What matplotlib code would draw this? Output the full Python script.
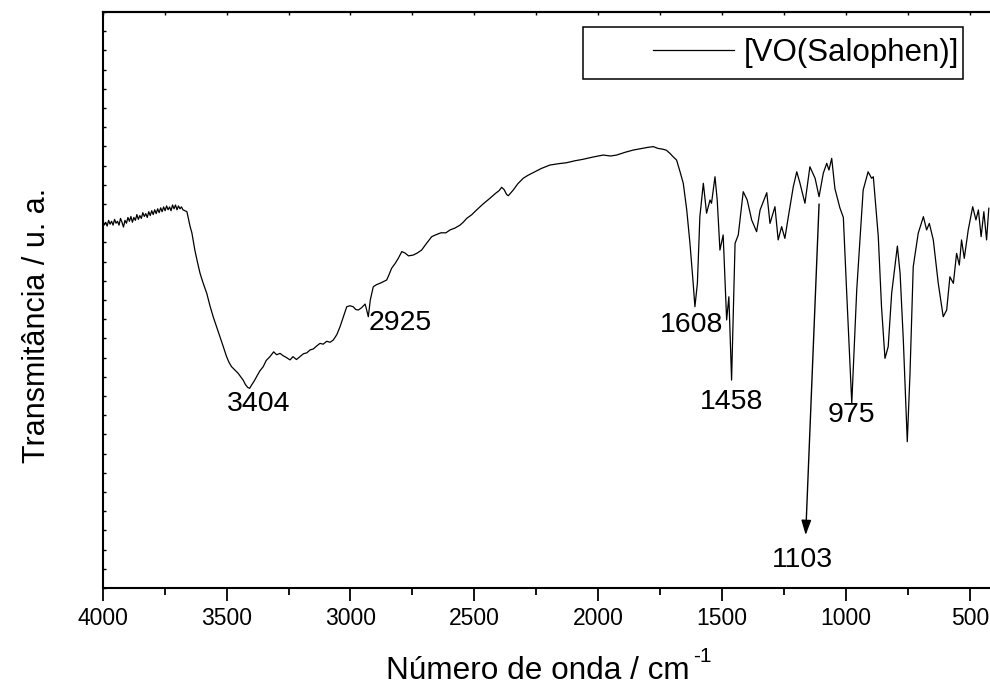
import matplotlib
matplotlib.use("Agg")
import matplotlib.pyplot as plt
from matplotlib.patches import Rectangle
from matplotlib.ticker import MultipleLocator, NullFormatter

plt.rcParams['font.family'] = ['Liberation Sans', 'DejaVu Sans']

# --- espectro IV ---
numero_onda = [
    4000, 3994, 3988, 3982, 3976, 3970, 3964, 3958, 3952, 3946, 3940, 3934, 3928, 3922,
    3916, 3910, 3904, 3898, 3892, 3886, 3880, 3874, 3868, 3862, 3856, 3850, 3844, 3838,
    3832, 3826, 3820, 3814, 3808, 3802, 3796, 3790, 3784, 3778, 3772, 3766, 3760, 3754,
    3748, 3742, 3736, 3730, 3724, 3718, 3712, 3706, 3700, 3694, 3688, 3682, 3676, 3668,
    3660, 3647, 3640, 3628, 3618, 3607, 3595, 3580, 3567, 3554, 3540, 3527, 3514,
    3500, 3490, 3480, 3466, 3453, 3443, 3433, 3424, 3415, 3407, 3399, 3390, 3379, 3366,
    3352, 3340, 3325, 3310, 3298, 3284, 3272, 3258, 3244, 3232, 3218, 3204, 3190, 3176,
    3163, 3150, 3137, 3123, 3110, 3096, 3082, 3069, 3055, 3042, 3028, 3015, 3002, 2989,
    2978, 2968, 2955, 2941, 2935, 2928, 2920, 2908, 2895, 2881, 2868, 2854, 2845, 2834,
    2820, 2807, 2793, 2780, 2766, 2747, 2730, 2713, 2693, 2672, 2655, 2635, 2615, 2598,
    2578, 2558, 2545, 2531, 2510, 2491, 2465, 2437, 2415, 2400, 2390, 2380, 2370, 2363,
    2355, 2343, 2325, 2303, 2283, 2263, 2230, 2195, 2160, 2128, 2095, 2061, 2020, 1980,
    1950, 1926, 1890, 1859, 1820, 1800, 1778, 1760, 1738, 1725, 1711, 1697, 1684, 1670,
    1657, 1643, 1630, 1617, 1610, 1600, 1590, 1576, 1563, 1549, 1543, 1529, 1520, 1509,
    1496, 1482, 1473, 1462, 1448, 1435, 1415, 1399, 1381, 1361, 1347, 1320, 1307, 1287,
    1274, 1260, 1247, 1233, 1213, 1199, 1186, 1166, 1146, 1125, 1109, 1092, 1078, 1069,
    1058, 1045, 1025, 1011, 998, 977, 957, 931, 911, 897, 890, 870, 857, 843,
    830, 816, 803, 793, 782, 769, 753, 742, 729, 709, 688, 675, 664, 648,
    628, 608, 594, 581, 567, 554, 543, 534, 523, 507, 489, 476, 466, 455,
    444, 433, 424,
]
transmitancia = [
    19.10, 18.90, 19.05, 18.85, 19.15, 18.95, 19.10, 18.90, 19.20, 19.00, 19.10, 18.90, 19.25, 19.05,
    18.80, 19.15, 19.00, 19.30, 19.10, 19.35, 19.05, 19.30, 19.15, 19.45, 19.20, 19.40, 19.25, 19.55,
    19.35, 19.50, 19.30, 19.60, 19.40, 19.65, 19.45, 19.70, 19.50, 19.75, 19.55, 19.80, 19.60, 19.85,
    19.65, 19.90, 19.70, 19.85, 19.65, 19.95, 19.75, 19.95, 19.70, 19.90, 19.75, 19.85, 19.70, 19.65,
    19.60, 18.82, 18.50, 17.60, 17.00, 16.39, 15.90, 15.35, 14.70, 14.13, 13.60, 13.09, 12.60,
    12.05, 11.75, 11.53, 11.35, 11.18, 11.00, 10.83, 10.60, 10.45, 10.40, 10.57, 10.75, 11.00, 11.30,
    11.53, 11.85, 12.05, 12.30, 12.15, 12.22, 12.10, 12.00, 11.88, 12.05, 11.90, 12.05, 12.20, 12.25,
    12.40, 12.45, 12.60, 12.74, 12.70, 12.85, 12.80, 12.92, 13.20, 13.61, 14.15, 14.65, 14.70, 14.65,
    14.50, 14.48, 14.60, 14.79, 14.50, 14.13, 15.00, 15.69, 15.80, 15.87, 15.95, 16.04, 16.30, 16.65,
    16.90, 17.17, 17.52, 17.45, 17.30, 17.34, 17.45, 17.60, 17.95, 18.30, 18.40, 18.50, 18.50, 18.65,
    18.75, 18.90, 19.05, 19.25, 19.45, 19.69, 20.00, 20.30, 20.55, 20.70, 20.87, 20.75, 20.50, 20.43,
    20.55, 20.73, 21.05, 21.34, 21.50, 21.63, 21.85, 22.03, 22.10, 22.15, 22.25, 22.33, 22.45, 22.55,
    22.50, 22.55, 22.70, 22.81, 22.90, 22.95, 22.99, 22.90, 22.85, 22.80, 22.64, 22.45, 22.29, 21.68,
    21.08, 19.69, 17.95, 15.87, 14.65, 15.87, 19.34, 21.08, 19.52, 20.21, 20.04, 21.42, 20.21, 17.60,
    18.39, 13.96, 15.17, 10.83, 17.95, 18.39, 20.64, 20.21, 19.17, 18.56, 19.69, 20.59, 18.99, 19.86,
    18.13, 18.82, 18.21, 19.34, 20.90, 21.68, 21.08, 20.04, 21.94, 21.34, 20.38, 21.60, 22.12, 21.77,
    22.38, 20.80, 19.80, 19.30, 15.52, 9.62, 15.52, 20.73, 21.68, 21.34, 21.42, 18.30, 14.65, 11.96,
    12.57, 15.35, 16.73, 17.81, 16.39, 12.92, 7.62, 11.18, 16.73, 18.47, 19.34, 18.65, 18.99, 18.13,
    15.87, 14.13, 14.48, 16.21, 15.87, 17.43, 16.82, 18.13, 17.17, 18.65, 19.86, 19.17, 19.69, 18.30,
    19.60, 18.13, 19.78,
]

# etiquetas de bandas: texto, x, y
bandas = ['3404', '2925', '1608', '1458', '975']
bandas_x = [3369, 2800, 1623, 1462, 977]
bandas_y = [9.6, 13.8, 13.7, 9.7, 9.0]

# --- figura ---
fig = plt.figure(figsize=(9.9, 6.9), dpi=100)
ax = fig.add_axes([0.1037, 0.1478, 0.8986, 0.8348])

linea, = ax.plot(numero_onda, transmitancia, color='black', linewidth=0.9)

ax.set_xlim(4000, 410)
ax.set_ylim(0, 30)

ax.xaxis.set_major_locator(MultipleLocator(500))
ax.xaxis.set_minor_locator(MultipleLocator(250))
ax.yaxis.set_major_locator(MultipleLocator(1))
ax.yaxis.set_major_formatter(NullFormatter())
ax.tick_params(axis='x', which='major', direction='out', length=9, width=1.3,
               labelsize=16.5, pad=5)
ax.tick_params(axis='x', which='minor', direction='out', length=5, width=1.3)
ax.tick_params(axis='y', which='major', direction='in', length=2.5, width=1.0)

for lado in ['left', 'bottom', 'top']:
    ax.spines[lado].set_linewidth(1.5)
ax.spines['right'].set_visible(False)

sec = ax.secondary_xaxis('top')
sec.xaxis.set_major_locator(MultipleLocator(250))
sec.xaxis.set_major_formatter(NullFormatter())
sec.tick_params(direction='in', length=2, width=1.0)
sec.spines['top'].set_linewidth(1.5)

for txt, bx, by in zip(bandas, bandas_x, bandas_y):
    ax.text(bx, by, txt, fontsize=20.5, ha='center', va='center')

# flecha de la banda 1103
ax.annotate('', xy=(1163, 2.76), xytext=(1109, 20.0),
            arrowprops=dict(arrowstyle='-|>,head_length=0.45,head_width=0.15',
                            color='black', lw=1.0, mutation_scale=20,
                            shrinkA=0, shrinkB=0))
ax.text(1178, 1.46, '1103', fontsize=20.5, ha='center', va='center')

# leyenda
fig.patches.append(Rectangle((583 / 990, 1 - 79 / 690), 380 / 990, 52 / 690,
                             transform=fig.transFigure, fill=False,
                             edgecolor='black', linewidth=1.1))
fig.legend([linea], ['[VO(Salophen)]'], loc='center right',
           bbox_to_anchor=(962 / 990, 1 - 53 / 690), frameon=False,
           fontsize=22.5, handlelength=2.6, handletextpad=0.3,
           borderpad=0.1, borderaxespad=0)

fig.text(37 / 990, 1 - 325 / 690, 'Transmitância / u. a.', rotation=90,
         fontsize=22, ha='center', va='center')
fig.text(690 / 990, 1 - 671 / 690, 'Número de onda / cm',
         fontsize=22.7, ha='right', va='center')
fig.text(693 / 990, 1 - 657 / 690, '-1', fontsize=15, ha='left', va='center')

plt.savefig("out.png", dpi=100)
